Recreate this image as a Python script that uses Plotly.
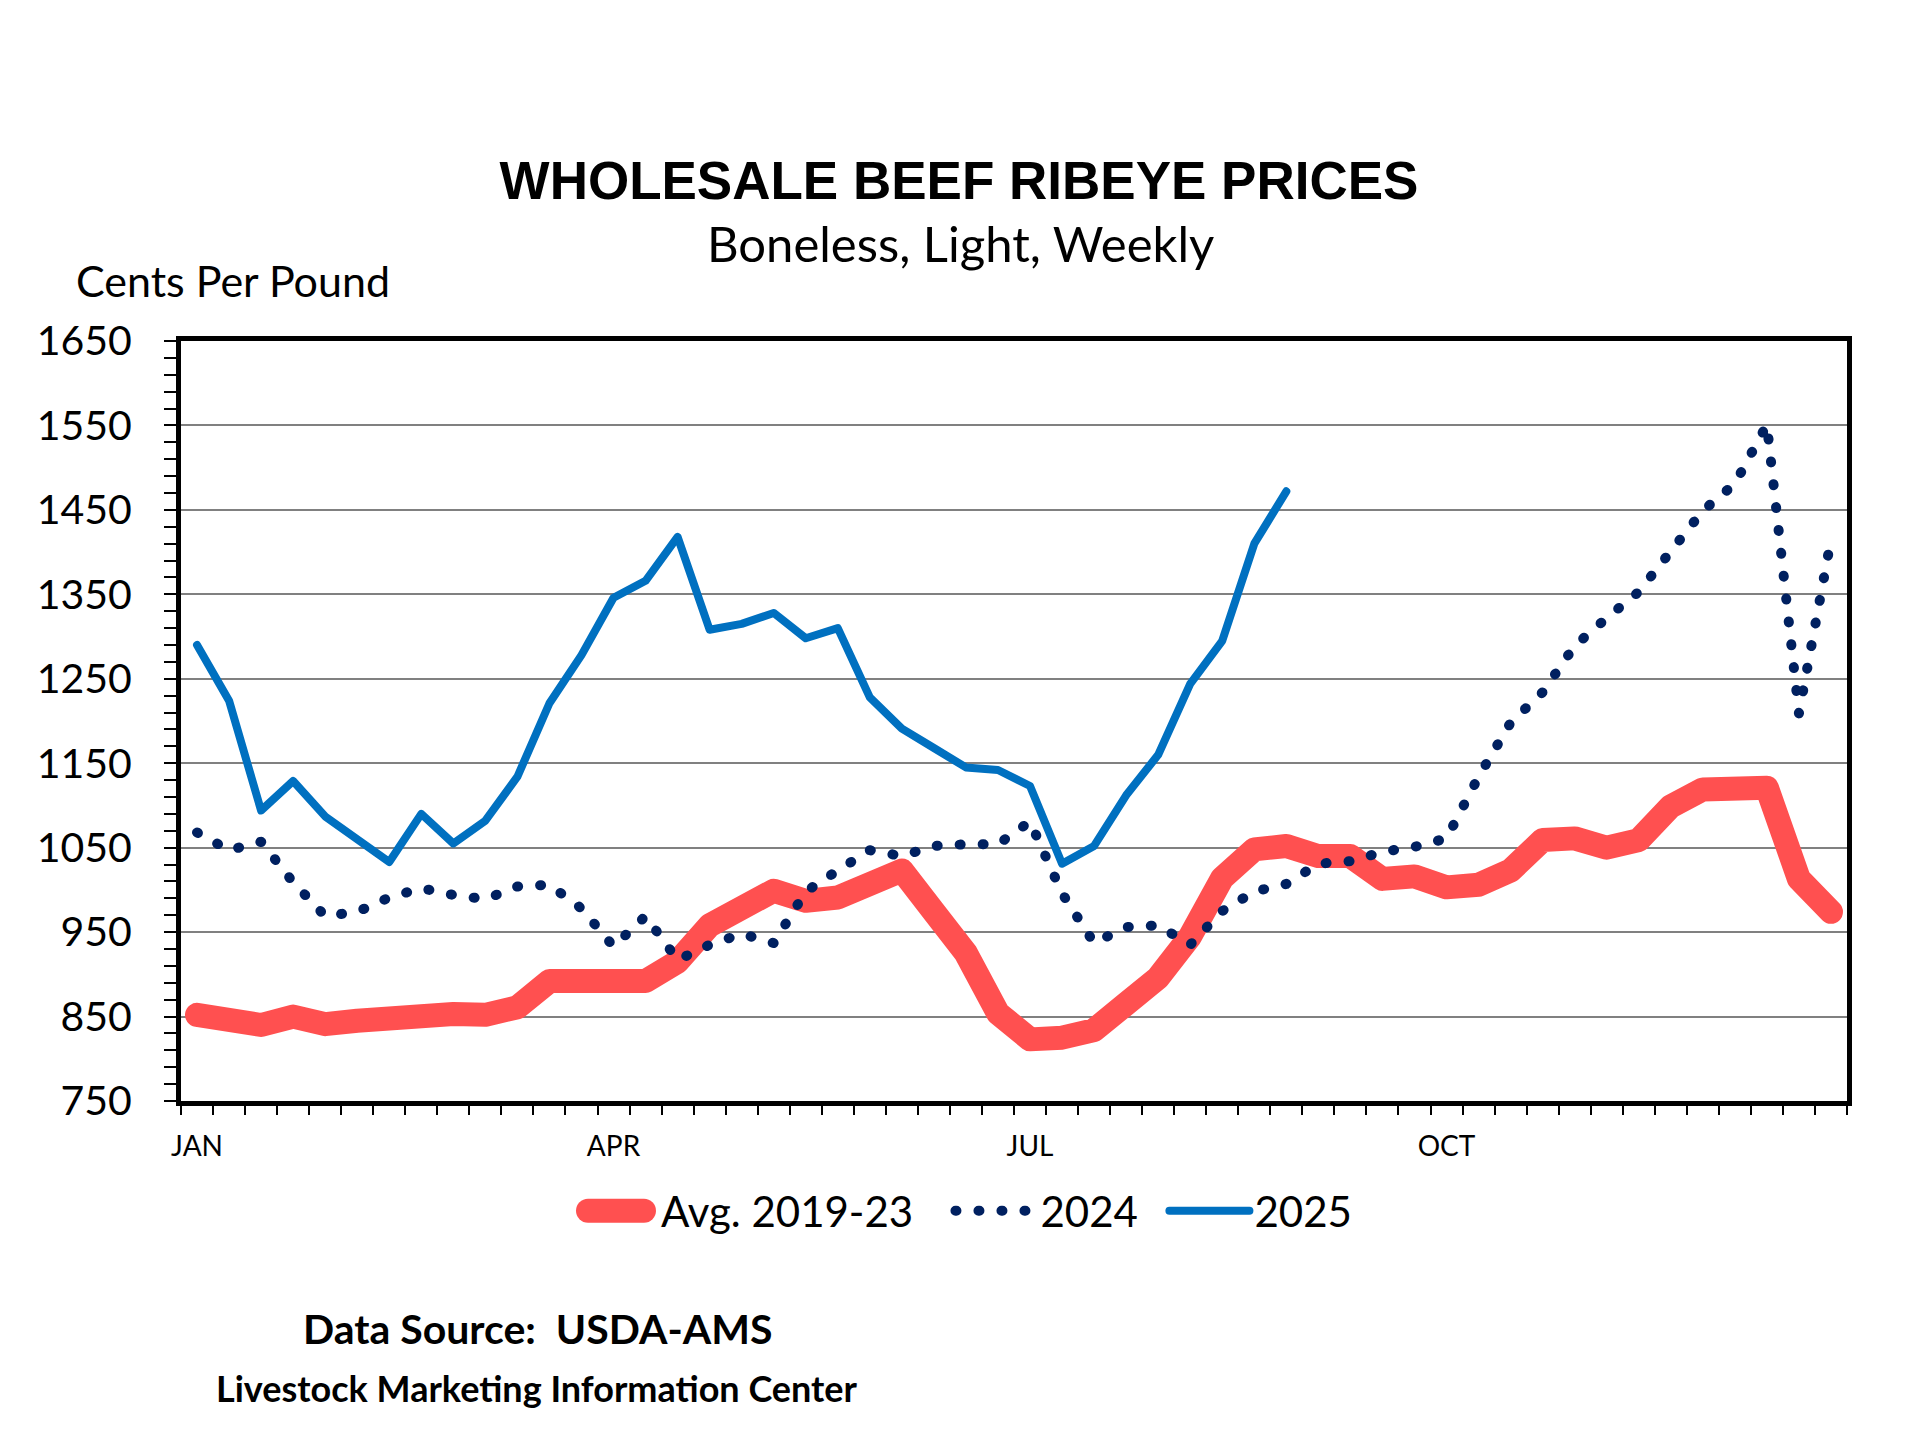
import plotly.graph_objects as go

# weekly values, cents per pound (week 1..52)
weeks = list(range(1, 53))

avg_2019_23 = [852, 845, 840, 850, 841, 845, 849, 848, 853, 852,
               861, 892, 895, 892, 892, 915, 958, 975, 999, 987,
               991, 1007, 1023, 974, 925, 854, 823, 825, 834, 865,
               896, 945, 1014, 1048, 1052, 1040, 1040, 1013, 1016, 1003,
               1006, 1023, 1059, 1061, 1050, 1059, 1099, 1119, 1119, 1121,
               1013, 974]

y2024 = [1068, 1047, 1057, 1009, 969, 974, 991, 1002, 994, 989,
         1004, 1006, 978, 933, 969, 917, 935, 948, 937, 998,
         1023, 1047, 1040, 1052, 1054, 1054, 1081, 996, 937, 956,
         958, 935, 975, 998, 1007, 1031, 1034, 1045, 1051, 1061,
         1134, 1198, 1234, 1289, 1322, 1353, 1401, 1449, 1481, 1551,
         1209, 1415]

y2025 = [1290, 1224, 1094, 1129, 1087, 1060, 1033, 1090, 1055, 1082,
         1134, 1221, 1278, 1346, 1366, 1418, 1308, 1315, 1328, 1298,
         1310, 1228, 1191, 1168, 1145, 1142, 1123, 1031, 1052, 1112,
         1160, 1244, 1295, 1410, 1472]

month_ticks = [1, 14, 27, 40]
month_labels = ['JAN', 'APR', 'JUL', 'OCT']

# plot area in pixels
W, H = 1920, 1440
L, R, T, B = 173, 1839, 333, 1093

NB = '\u00a0'


def px_x(x):
    return (x - L) / (R - L)


def px_y(y):
    return (B - y) / (B - T)


fig = go.Figure()

fig.add_trace(go.Scatter(
    x=weeks, y=avg_2019_23, name='Avg. 2019-23' + NB * 3, mode='lines',
    line=dict(color='#FF5050', width=24)
))
fig.add_trace(go.Scatter(
    x=weeks, y=y2024, name='2024' + NB * 2, mode='lines',
    line=dict(color='#002060', width=10, dash='1px,22px')
))
fig.add_trace(go.Scatter(
    x=weeks[:len(y2025)], y=y2025, name='2025', mode='lines',
    line=dict(color='#0070C0', width=8)
))

fig.update_layout(
    width=W, height=H, autosize=False,
    paper_bgcolor='white', plot_bgcolor='white',
    margin=dict(l=L, r=W - R, t=T, b=H - B),
    font=dict(family='Lato, Calibri, sans-serif', color='black'),
    showlegend=True,
    hovermode=False,
    title=dict(
        text='<b>WHOLESALE BEEF RIBEYE PRICES</b>',
        font=dict(family='Liberation Sans, Arial, sans-serif', size=53, color='black'),
        x=951 / W, xanchor='center', y=1 - 172 / H, yanchor='middle'
    ),
    legend=dict(
        orientation='h', xanchor='center', yanchor='middle',
        x=px_x(956), y=px_y(1203),
        font=dict(size=42), itemwidth=80,
        bgcolor='rgba(0,0,0,0)'
    ),
    annotations=[
        dict(text='Boneless, Light, Weekly', x=px_x(952), y=px_y(235),
             xref='paper', yref='paper', showarrow=False,
             xanchor='center', yanchor='middle', font=dict(size=49)),
        dict(text='Cents Per Pound', x=px_x(66), y=px_y(272),
             xref='paper', yref='paper', showarrow=False,
             xanchor='left', yanchor='middle', font=dict(size=43)),
        dict(text='<b>Data Source:  USDA-AMS</b>', x=px_x(529), y=px_y(1320),
             xref='paper', yref='paper', showarrow=False,
             xanchor='center', yanchor='middle', font=dict(size=41)),
        dict(text='<b>Livestock Marketing Information Center</b>', x=px_x(529), y=px_y(1380),
             xref='paper', yref='paper', showarrow=False,
             xanchor='center', yanchor='middle', font=dict(size=36)),
    ]
)

fig.update_xaxes(
    range=[0.5, 52.5], tickmode='array', tickvals=month_ticks, ticktext=month_labels,
    ticks='', tickfont=dict(size=28), ticklabelstandoff=16,
    showgrid=False, zeroline=False,
    showline=True, linecolor='black', linewidth=5, mirror=True,
    minor=dict(tick0=0.5, dtick=1, ticks='outside', ticklen=9, tickwidth=2,
               tickcolor='black', showgrid=False)
)

fig.update_yaxes(
    range=[750, 1650], tick0=750, dtick=100,
    ticks='outside', ticklen=12, tickwidth=2, tickcolor='black',
    tickfont=dict(size=41), ticklabelstandoff=24,
    showgrid=True, gridcolor='#808080', gridwidth=2, zeroline=False,
    showline=True, linecolor='black', linewidth=5, mirror=True,
    minor=dict(tick0=750, dtick=20, ticks='outside', ticklen=12, tickwidth=2,
               tickcolor='black', showgrid=False)
)

# Excel-style round dots and joins, full-width legend lines
post = """
document.querySelectorAll('path.js-line').forEach(function(p){
  p.style.strokeLinejoin = 'round';
  p.style.strokeLinecap = 'round';
});
var lw = ['24px', '10px', '8px'];
document.querySelectorAll('.legend .traces').forEach(function(g, i){
  g.querySelectorAll('.legendlines path').forEach(function(p){
    p.style.strokeWidth = lw[i];
    if (i === 0) {
      var len = p.getTotalLength();
      if (len > 40) {
        p.style.strokeDasharray = (len - 24) + 'px,2000px';
        p.style.strokeDashoffset = '-12px';
      }
    }
  });
});
"""

fig.write_html('out.html', post_script=post)
